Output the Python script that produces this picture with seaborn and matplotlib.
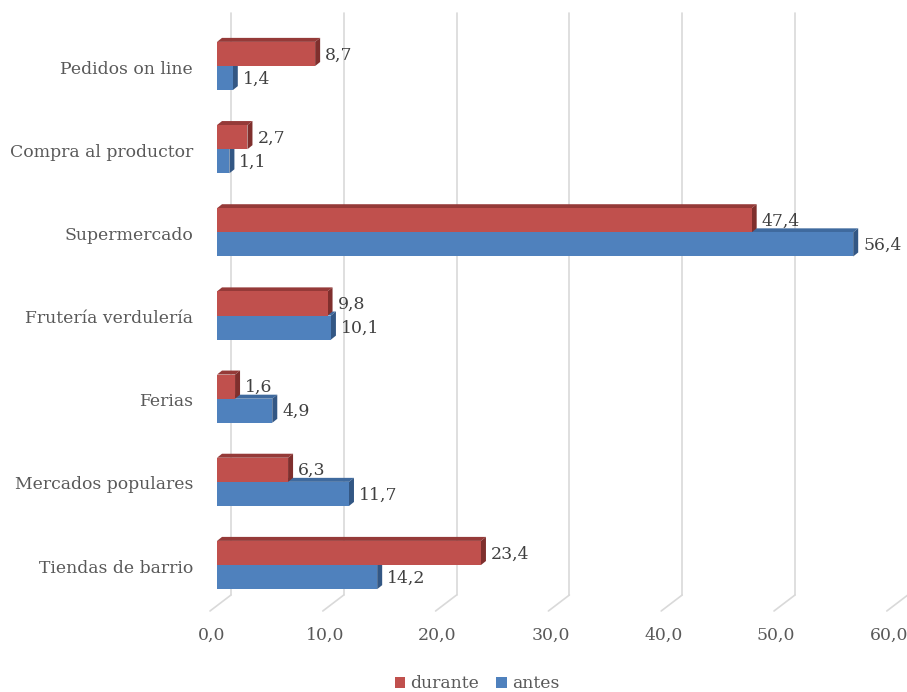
import numpy as np
import pandas as pd
import seaborn as sns
import matplotlib.pyplot as plt
import matplotlib.transforms as mtransforms
from matplotlib.patches import Polygon, Patch
from matplotlib.lines import Line2D

# Data
categorias = ["Pedidos on line", "Compra al productor", "Supermercado",
              "Frutería verdulería", "Ferias", "Mercados populares",
              "Tiendas de barrio"]
durante = [8.7, 2.7, 47.4, 9.8, 1.6, 6.3, 23.4]
antes = [1.4, 1.1, 56.4, 10.1, 4.9, 11.7, 14.2]
series = ["durante", "antes"]
ticks = [0, 10, 20, 30, 40, 50, 60]

df = pd.DataFrame({
    "canal": categorias * 2,
    "periodo": ["durante"] * len(categorias) + ["antes"] * len(categorias),
    "valor": durante + antes,
})

sns.set_theme(style="white")
plt.rcParams["font.family"] = ["DejaVu Serif"]
TXT = "#595959"
FS = 12.4

W, H = 907, 692
fig = plt.figure(figsize=(W / 100, H / 100), dpi=100)
left_px, right_px = 217, 217 + 60 * 11.28
top_px, bottom_px = 13, 611
ax = fig.add_axes([left_px / W, 1 - bottom_px / H,
                   (right_px - left_px) / W, (bottom_px - top_px) / H])

front = {"durante": "#C0504D", "antes": "#4F81BD"}
topc = {"durante": "#953A38", "antes": "#3F6A9E"}
sidec = {"durante": "#7F2F2D", "antes": "#335784"}

sns.barplot(data=df, y="canal", x="valor", hue="periodo", hue_order=series,
            order=categorias, palette=front, width=0.58, saturation=1,
            linewidth=0, orient="h", legend=False, ax=ax)

pitch = 83.17
y0c = 66
ax.set_xlim(0, 60)
ax.set_ylim((bottom_px - y0c) / pitch, (top_px - y0c) / pitch)
ax.set_axis_off()

ident = mtransforms.IdentityTransform()


def px(x):
    return ax.transData.transform((x, 0))[0]


# back-wall gridlines and floor diagonals
floor_front, floor_back = H - 611, H - 595
for v in ticks:
    xf = px(v)
    ax.add_artist(Line2D([xf + 14, xf + 14], [floor_back, H - 13],
                         transform=ident, color="#D9D9D9", lw=1.2,
                         zorder=0.5, clip_on=False))
    ax.add_artist(Line2D([xf - 7, xf + 14], [floor_front, floor_back],
                         transform=ident, color="#D9D9D9", lw=1.2,
                         zorder=0.5, clip_on=False))
    fig.text((xf - 5) / W, 1 - 635 / H, f"{v:.1f}".replace(".", ","),
             ha="center", va="center", fontsize=FS, color=TXT)

# category labels
for i, c in enumerate(categorias):
    yd = ax.transData.transform((0, i))[1]
    fig.text(193 / W, (yd - 3) / H, c, ha="right", va="center",
             fontsize=FS, color=TXT)

# depth faces for each bar
dx, dy = 5, 4
vals = {"durante": durante, "antes": antes}
n = len(categorias)
for k, p in enumerate(ax.patches[:2 * n]):
    s = series[k // n]
    v = vals[s][k % n]
    (xl, ya), (xr, yb) = ax.transData.transform(
        [(p.get_x(), p.get_y()), (p.get_x() + p.get_width(), p.get_y() + p.get_height())])
    yt, ybm = max(ya, yb), min(ya, yb)
    z = 1.5 if s == "antes" else 1.7
    ax.add_artist(Polygon([(xl, yt), (xr, yt), (xr + dx, yt + dy), (xl + dx, yt + dy)],
                          closed=True, transform=ident, facecolor=topc[s],
                          edgecolor="none", zorder=z, clip_on=False))
    ax.add_artist(Polygon([(xr, ybm), (xr, yt), (xr + dx, yt + dy), (xr + dx, ybm + dy)],
                          closed=True, transform=ident, facecolor=sidec[s],
                          edgecolor="none", zorder=z, clip_on=False))
    p.set_zorder(2.5)
    fig.text((xr + dx + 5) / W, ((yt + ybm) / 2 - 1) / H,
             f"{v:.1f}".replace(".", ","), ha="left", va="center",
             fontsize=FS, color="#404040", zorder=3)

handles = [Patch(facecolor=front[s], edgecolor="none") for s in series]
fig.legend(handles, series, loc="center", bbox_to_anchor=(477 / W, 1 - 684 / H),
           ncol=2, frameon=False, handlelength=0.6, handleheight=0.6,
           handletextpad=0.3, columnspacing=1.0, fontsize=FS, labelcolor=TXT)

fig.savefig("out.png", dpi=100)
